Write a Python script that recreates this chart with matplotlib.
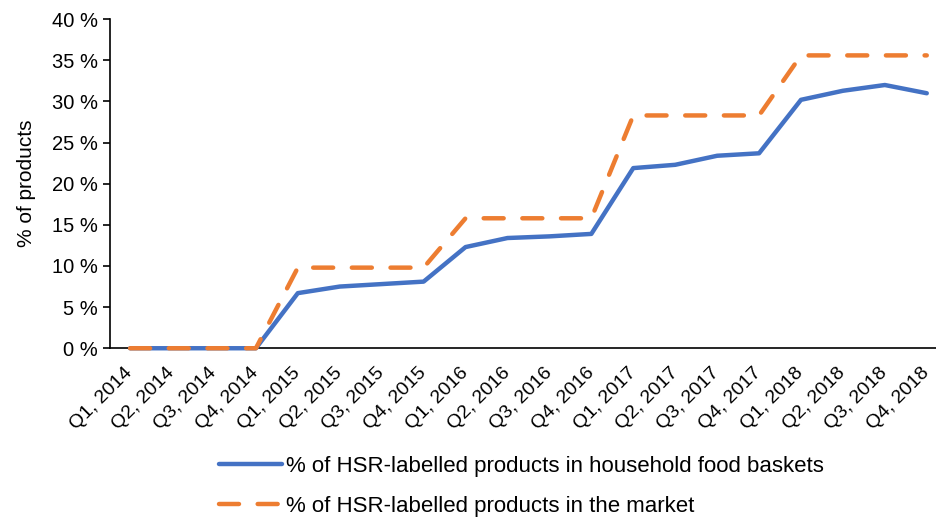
import matplotlib
matplotlib.use("Agg")
import matplotlib.pyplot as plt
from matplotlib.ticker import FuncFormatter

plt.rcParams['font.family'] = ['Liberation Sans', 'DejaVu Sans']

quarters = ['Q1, 2014', 'Q2, 2014', 'Q3, 2014', 'Q4, 2014',
            'Q1, 2015', 'Q2, 2015', 'Q3, 2015', 'Q4, 2015',
            'Q1, 2016', 'Q2, 2016', 'Q3, 2016', 'Q4, 2016',
            'Q1, 2017', 'Q2, 2017', 'Q3, 2017', 'Q4, 2017',
            'Q1, 2018', 'Q2, 2018', 'Q3, 2018', 'Q4, 2018']
household = [0, 0, 0, 0, 6.7, 7.5, 7.8, 8.1, 12.3, 13.4, 13.6, 13.9,
             21.9, 22.3, 23.4, 23.7, 30.2, 31.3, 32.0, 31.0]
market = [0, 0, 0, 0, 9.8, 9.8, 9.8, 9.8, 15.8, 15.8, 15.8, 15.8,
          28.3, 28.3, 28.3, 28.3, 35.6, 35.6, 35.6, 35.6]

label_household = '% of HSR-labelled products in household food baskets'
label_market = '% of HSR-labelled products in the market'

fig = plt.figure(figsize=(9.36, 5.19), dpi=100)
ax = fig.add_axes([0.1175, 0.329, 0.8825, 0.634])

x = list(range(len(quarters)))
ax.plot(x, household, color='#4472C4', linewidth=3.2, solid_capstyle='round',
        solid_joinstyle='round', label=label_household, clip_on=False, zorder=3)
ax.plot(x, market, color='#ED7D31', linewidth=3.2, linestyle=(0, (4.5, 4.2)),
        dash_capstyle='round', label=label_market, clip_on=False, zorder=4)

ax.set_xlim(-0.48, 19.22)
ax.set_ylim(0, 40)
ax.set_yticks(range(0, 41, 5))
ax.yaxis.set_major_formatter(FuncFormatter(lambda v, p: f'{int(v)} %'))
ax.set_xticks(x)
ax.set_xticklabels(quarters, rotation=45, ha='right', va='center',
                   rotation_mode='anchor')
ax.tick_params(axis='x', length=0, pad=16, labelsize=14)
ax.tick_params(axis='y', length=5, width=1.2, labelsize=14.5)
ax.set_ylabel('% of products', fontsize=15, labelpad=12)

for side in ['top', 'right']:
    ax.spines[side].set_visible(False)
ax.spines['left'].set_linewidth(1.2)
ax.spines['bottom'].set_linewidth(1.2)

fig.legend(loc='center', bbox_to_anchor=(0.557, 0.063), ncol=1, frameon=False,
           fontsize=16, handlelength=2.85, handletextpad=0.2, labelspacing=0.85)

fig.savefig('out.png', dpi=100)
